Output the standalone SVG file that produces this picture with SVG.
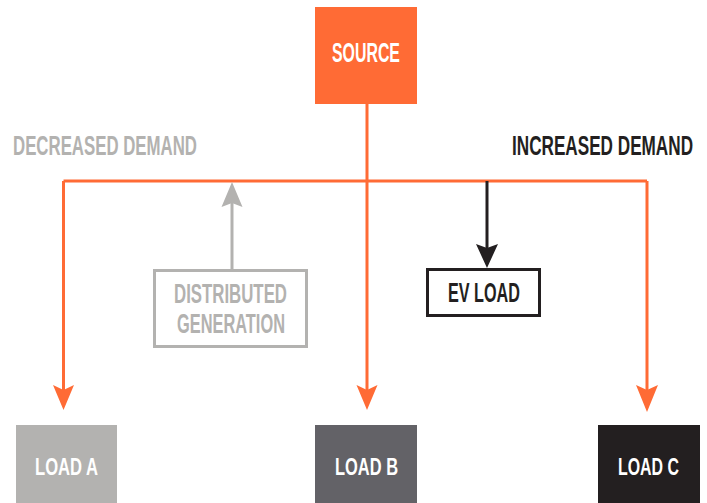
<svg xmlns="http://www.w3.org/2000/svg" width="707" height="503" viewBox="0 0 707 503">
<style>
.t{font-family:"Liberation Sans",Arial,sans-serif;font-weight:bold}
.big{font-size:28px}
.sm{font-size:24px}
.w{fill:#ffffff}
.or{stroke:#ff6b35;stroke-width:3;fill:none}
</style>
<rect width="707" height="503" fill="#ffffff"/>
<g id="connectors">
  <path class="or" d="M63.5 181 H647 M63.5 181 V390 M647 181 V390 M367 104 V390"/>
  <polygon fill="#ff6b35" points="63.5,410 53,385 63.5,390 74,385"/>
  <polygon fill="#ff6b35" points="367,410 356.5,385 367,390 377.5,385"/>
  <polygon fill="#ff6b35" points="647,412 636,385 647,390 658,385"/>
  <path d="M232 269 V200" stroke="#b3b2b0" stroke-width="3" fill="none"/>
  <polygon fill="#b3b2b0" points="232,182 221.5,207 232,203 242.5,207"/>
  <path d="M487 181 V250" stroke="#231f20" stroke-width="3" fill="none"/>
  <polygon fill="#231f20" points="487,268 476,244 487,248 498,244"/>
</g>
<g id="source">
  <rect x="315" y="7" width="102" height="97" fill="#ff6b35"/>
  <text class="t big w" transform="translate(332 62) scale(0.6 1)" textLength="113.3" lengthAdjust="spacingAndGlyphs">SOURCE</text>
</g>
<g id="decreased-demand">
  <text class="t big" transform="translate(13 155) scale(0.6 1)" fill="#b3b2b0" textLength="306.7" lengthAdjust="spacingAndGlyphs">DECREASED DEMAND</text>
</g>
<g id="increased-demand">
  <text class="t big" transform="translate(512 155) scale(0.6 1)" fill="#231f20" textLength="301.7" lengthAdjust="spacingAndGlyphs">INCREASED DEMAND</text>
</g>
<g id="distributed-generation">
  <rect x="154.5" y="270.5" width="152" height="76" fill="#ffffff" stroke="#b3b2b0" stroke-width="3"/>
  <text class="t big" transform="translate(174 303) scale(0.6 1)" fill="#b3b2b0" textLength="188.3" lengthAdjust="spacingAndGlyphs">DISTRIBUTED</text>
  <text class="t big" transform="translate(177 333) scale(0.6 1)" fill="#b3b2b0" textLength="180" lengthAdjust="spacingAndGlyphs">GENERATION</text>
</g>
<g id="ev-load">
  <rect x="427.5" y="269.5" width="112" height="46" fill="#ffffff" stroke="#231f20" stroke-width="3"/>
  <text class="t big" transform="translate(448 302) scale(0.6 1)" fill="#231f20" textLength="120" lengthAdjust="spacingAndGlyphs">EV LOAD</text>
</g>
<g id="load-a">
  <rect x="16" y="425" width="101" height="90" fill="#b3b2b0"/>
  <text class="t sm w" transform="translate(35 475) scale(0.6 1)" textLength="105" lengthAdjust="spacingAndGlyphs">LOAD A</text>
</g>
<g id="load-b">
  <rect x="315" y="425" width="102" height="90" fill="#636267"/>
  <text class="t sm w" transform="translate(335 475) scale(0.6 1)" textLength="105" lengthAdjust="spacingAndGlyphs">LOAD B</text>
</g>
<g id="load-c">
  <rect x="598" y="425" width="102" height="90" fill="#231f20"/>
  <text class="t sm w" transform="translate(618 475) scale(0.6 1)" textLength="101.7" lengthAdjust="spacingAndGlyphs">LOAD C</text>
</g>
</svg>
